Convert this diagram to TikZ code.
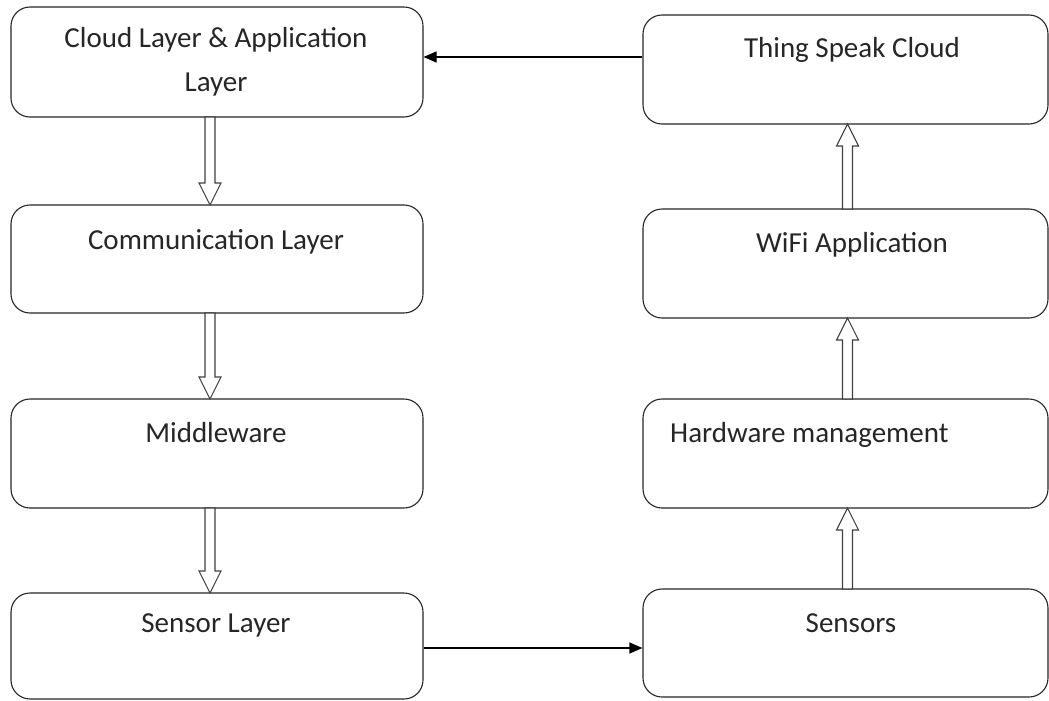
\documentclass[tikz,border=0pt]{standalone}
\usepackage{fontspec}
\setmainfont{Carlito}
\usetikzlibrary{calc,arrows.meta}
\tikzset{
  box/.style={draw=black!85, line width=1.1pt, rounded corners=19pt, fill=white, inner sep=0pt},
  txt/.style={font=\fontsize{29}{43}\selectfont, text=black!85, inner sep=0pt, anchor=base},
  hollow/.style={draw=black!75, line width=1.1pt, fill=white, line join=miter},
  thin/.style={draw=black, line width=1.1pt, -{Triangle[length=13pt,width=11pt]}}
}
% hollow arrow: #1 start coordinate, #2 tip coordinate, #3 direction (+1 down, -1 up) in y units
\newcommand\hollowarrow[3]{%
  \draw[hollow] ($(#1)+(-5,0)$) -- ($(#2)+(-5,{-22*#3})$) -- ($(#2)+(-11,{-22*#3})$) -- (#2)
    -- ($(#2)+(11,{-22*#3})$) -- ($(#2)+(5,{-22*#3})$) -- ($(#1)+(5,0)$) -- cycle;}
\begin{document}
\begin{tikzpicture}[x=1pt,y=-1pt]
\useasboundingbox (0,0) rectangle (1049,701);
% left column boxes
\node[box, minimum width=412pt, minimum height=110pt] (L1) at (217,62) {};
\node[box, minimum width=412pt, minimum height=108pt] (L2) at (217,259) {};
\node[box, minimum width=412pt, minimum height=109pt] (L3) at (217,453.5) {};
\node[box, minimum width=412pt, minimum height=106pt] (L4) at (217,646) {};
% right column boxes
\node[box, minimum width=405pt, minimum height=109pt] (R1) at (845.5,69.5) {};
\node[box, minimum width=405pt, minimum height=109pt] (R2) at (845.5,263.5) {};
\node[box, minimum width=405pt, minimum height=109pt] (R3) at (845.5,453.5) {};
\node[box, minimum width=405pt, minimum height=108pt] (R4) at (845.5,643) {};
% texts
\node[txt] (t1a) at (216,48) {Cloud Layer \& Application};
\node[txt] (t1b) at (216,91) {Layer};
\node[txt] (t2) at (216,249) {Communication Layer};
\node[txt] (t3) at (216,442) {Middleware};
\node[txt] (t4) at (216,632) {Sensor Layer};
\node[txt] (u1) at (852,58) {Thing Speak Cloud};
\node[txt] (u2) at (852,252) {WiFi Application};
\node[txt, anchor=base west] (u3) at (670,442) {Hardware management};
\node[txt] (u4) at (851,632) {Sensors};
% anchor coordinates for hollow arrows
\coordinate (a1s) at (210,117); \coordinate (a1e) at (210,205);
\coordinate (a2s) at (210,313); \coordinate (a2e) at (210,399);
\coordinate (a3s) at (210,508); \coordinate (a3e) at (210,593);
\coordinate (b1s) at (847.5,589); \coordinate (b1e) at (847.5,508);
\coordinate (b2s) at (847.5,399); \coordinate (b2e) at (847.5,318);
\coordinate (b3s) at (847.5,209); \coordinate (b3e) at (847.5,124);
\hollowarrow{a1s}{a1e}{1}
\hollowarrow{a2s}{a2e}{1}
\hollowarrow{a3s}{a3e}{1}
\hollowarrow{b1s}{b1e}{-1}
\hollowarrow{b2s}{b2e}{-1}
\hollowarrow{b3s}{b3e}{-1}
% straight arrows
\draw[thin] (R1.west |- 0,57) -- (L1.east |- 0,57);
\draw[thin] (L4.east |- 0,648) -- (R4.west |- 0,648);
\end{tikzpicture}
\end{document}
